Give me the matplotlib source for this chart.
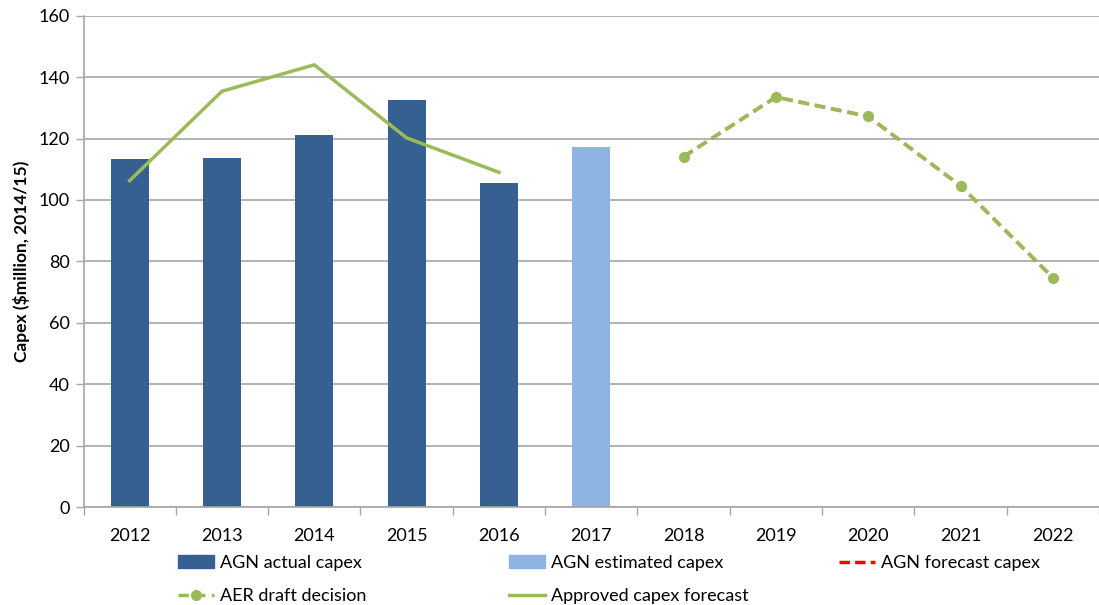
import numpy as np
import matplotlib
matplotlib.use("Agg")
import matplotlib.pyplot as plt
from matplotlib.lines import Line2D
from matplotlib.patches import Patch

plt.rcParams['font.family'] = ['Lato', 'DejaVu Sans']

# capex data, $million 2014/15
years = ['2012', '2013', '2014', '2015', '2016', '2017', '2018', '2019', '2020', '2021', '2022']
actual_capex = [113.2, 113.7, 121.1, 132.7, 105.6]          # 2012-2016
estimated_capex = [117.4]                                    # 2017
approved_forecast = [106.3, 135.4, 144.0, 120.2, 109.0]     # 2012-2016
agn_forecast = [114.1, 133.5, 127.2, 104.6, 74.7]           # 2018-2022
aer_draft = [114.1, 133.5, 127.2, 104.6, 74.7]              # 2018-2022

dark_blue = '#376092'
light_blue = '#8EB4E3'
green = '#9BBB59'
red = '#FF0000'
grey = '#A6A6A6'

x = np.arange(len(years))

fig = plt.figure(figsize=(10.99, 6.05), dpi=100)
W, H = 1099, 605
left, right, top, bottom = 83.5, 1099, 15.7, 507
ax = fig.add_axes([left / W, 1 - bottom / H, (right - left) / W, (bottom - top) / H])

dash = (0, (3, 1.6))
bw = 0.41
ax.bar(x[0:5], actual_capex, width=bw, color=dark_blue, zorder=2)
ax.bar(x[5:6], estimated_capex, width=bw, color=light_blue, zorder=2)
ax.plot(x[0:5], approved_forecast, color=green, lw=2.5, zorder=3)
# forecast sits underneath the draft decision line
ax.plot(x[6:11], agn_forecast, color=red, lw=2.6, ls=dash, alpha=0.5, zorder=3)
ax.plot(x[6:11], aer_draft, color=green, lw=2.6, ls=dash,
        marker='o', ms=7, zorder=4)

ax.set_ylim(0, 160)
ax.set_xlim(-0.5, -0.5 + (right - left) / 93.0)
ax.set_yticks(range(0, 161, 20))
ax.yaxis.grid(True, color=grey, lw=1.2, zorder=0)
ax.set_axisbelow(True)

ax.set_xticks(x)
ax.set_xticklabels(years)
ax.set_xticks(np.arange(-0.5, 11, 1), minor=True)
ax.tick_params(axis='x', which='major', length=0, pad=15, labelsize=13)
ax.tick_params(axis='x', which='minor', length=6, color=grey, width=1)
ax.tick_params(axis='y', length=6, color=grey, width=1, labelsize=13, pad=4)

for s in ['top', 'right']:
    ax.spines[s].set_visible(False)
for s in ['left', 'bottom']:
    ax.spines[s].set_color(grey)
    ax.spines[s].set_linewidth(1.2)

ax.set_ylabel('Capex ($million, 2014/15)', fontsize=12.5, fontweight='bold', labelpad=6)

# legend, three columns
h_actual = Patch(color=dark_blue)
h_est = Patch(color=light_blue)
h_fc = Line2D([], [], color=red, lw=2.5, ls=(0, (3, 1.5)))
h_aer = Line2D([], [], color=green, lw=2.5, ls=(0, (3, 1.8)), marker='o', ms=7)
h_app = Line2D([], [], color=green, lw=2.5)

cols = [
    (178, [h_actual, h_aer], ['AGN actual capex', 'AER draft decision']),
    (509, [h_est, h_app], ['AGN estimated capex', 'Approved capex forecast']),
    (839, [h_fc], ['AGN forecast capex']),
]
for cx, hs, ls in cols:
    fig.legend(hs, ls, loc='upper left', bbox_to_anchor=(cx / W, 1 - 555 / H),
               frameon=False, fontsize=13, handlelength=2.0, handleheight=0.75,
               handletextpad=0.3, labelspacing=0.95, borderaxespad=0, borderpad=0)

fig.savefig('out.png', dpi=100)
